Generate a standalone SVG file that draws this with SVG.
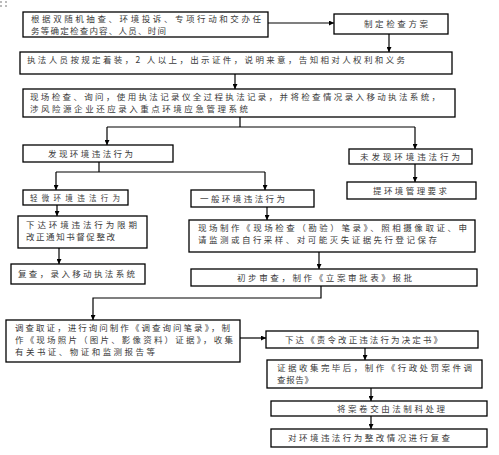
<svg xmlns="http://www.w3.org/2000/svg" width="499" height="455" viewBox="0 0 499 455">
<defs>
<marker id="ah" viewBox="0 0 6 6" refX="6" refY="3" markerWidth="5" markerHeight="5" orient="auto" markerUnits="userSpaceOnUse">
<path d="M0,0 L6,3 L0,6 z" fill="#000"/>
</marker>
<style>
.box{fill:#fff;stroke:#000;stroke-width:1.3}
.t{font-family:"Noto Sans CJK SC","Noto Sans",sans-serif;font-size:8.5px;fill:#3a3a3a}
.c{fill:none;stroke:#000;stroke-width:1.2}
.a{marker-end:url(#ah)}
.dot{fill:#bbb}
</style>
</defs>
<rect width="499" height="455" fill="#fff"/>
<g id="handle">
<rect class="dot" x="0" y="1" width="2" height="2"/>
<rect class="dot" x="5" y="1" width="2" height="2"/>
<rect class="dot" x="0" y="5" width="2" height="2"/>
<rect class="dot" x="5" y="5" width="2" height="2"/>
</g>
<g id="connectors">
<line class="c a" x1="268" y1="23" x2="334" y2="23"/>
<line class="c a" x1="389" y1="34" x2="389" y2="52"/>
<line class="c a" x1="235" y1="74" x2="235" y2="89"/>
<polyline class="c" points="240,117 240,127"/>
<polyline class="c" points="107,127 415,127"/>
<line class="c a" x1="107" y1="127" x2="107" y2="145"/>
<line class="c a" x1="415" y1="127" x2="415" y2="149"/>
<polyline class="c" points="99,162 99,172"/>
<polyline class="c" points="56,172 265,172"/>
<line class="c a" x1="56" y1="172" x2="56" y2="190"/>
<line class="c a" x1="265" y1="172" x2="265" y2="190"/>
<line class="c a" x1="415" y1="164" x2="415" y2="182"/>
<line class="c a" x1="57" y1="205" x2="57" y2="216"/>
<line class="c a" x1="59" y1="248" x2="59" y2="264"/>
<line class="c a" x1="267" y1="207" x2="267" y2="220"/>
<line class="c a" x1="319" y1="252" x2="319" y2="269"/>
<polyline class="c a" points="321,286 321,298 93,298 93,320"/>
<line class="c a" x1="240" y1="338" x2="266" y2="338"/>
<line class="c a" x1="365" y1="348" x2="365" y2="360"/>
<line class="c a" x1="371" y1="388" x2="371" y2="401"/>
<line class="c a" x1="371" y1="416" x2="371" y2="429"/>
</g>
<g id="n1"><rect class="box" x="23" y="12" width="245" height="25"/>
<text class="t" x="31" y="22" textLength="230" lengthAdjust="spacing">根据双随机抽查、环境投诉、专项行动和交办任</text>
<text class="t" x="31" y="34" textLength="135" lengthAdjust="spacing">务等确定检查内容、人员、时间</text></g>
<g id="n2"><rect class="box" x="334" y="14" width="114" height="20"/>
<text class="t" x="364" y="27" textLength="64" lengthAdjust="spacing">制定检查方案</text></g>
<g id="n3"><rect class="box" x="20" y="52" width="432" height="22"/>
<text class="t" x="27" y="63" textLength="378" lengthAdjust="spacing">执法人员按规定着装，2 人以上，出示证件，说明来意，告知相对人权利和义务</text></g>
<g id="n4"><rect class="box" x="23" y="89" width="432" height="28"/>
<text class="t" x="30" y="100" textLength="410" lengthAdjust="spacing">现场检查、询问，使用执法记录仪全过程执法记录，并将检查情况录入移动执法系统，</text>
<text class="t" x="30" y="112" textLength="218" lengthAdjust="spacing">涉风险源企业还应录入重点环境应急管理系统</text></g>
<g id="n5"><rect class="box" x="23" y="145" width="150" height="17"/>
<text class="t" x="48" y="157" textLength="85" lengthAdjust="spacing">发现环境违法行为</text></g>
<g id="n6"><rect class="box" x="349" y="149" width="123" height="15"/>
<text class="t" x="360" y="160" textLength="100" lengthAdjust="spacing">未发现环境违法行为</text></g>
<g id="n7"><rect class="box" x="23" y="190" width="105" height="15"/>
<text class="t" x="30" y="201" textLength="90" lengthAdjust="spacing" style="font-size:7.5px">轻微环境违法行为</text></g>
<g id="n8"><rect class="box" x="191" y="190" width="123" height="17"/>
<text class="t" x="200" y="202" textLength="85" lengthAdjust="spacing">一般环境违法行为</text></g>
<g id="n9"><rect class="box" x="347" y="182" width="129" height="17"/>
<text class="t" x="373" y="194" textLength="74" lengthAdjust="spacing">提环境管理要求</text></g>
<g id="n10"><rect class="box" x="18" y="216" width="129" height="32"/>
<text class="t" x="26" y="228" textLength="111" lengthAdjust="spacing">下达环境违法行为限期</text>
<text class="t" x="26" y="240" textLength="89" lengthAdjust="spacing">改正通知书督促整改</text></g>
<g id="n11"><rect class="box" x="11" y="264" width="134" height="20"/>
<text class="t" x="18" y="277" textLength="117" lengthAdjust="spacing">复查，录入移动执法系统</text></g>
<g id="n12"><rect class="box" x="189" y="220" width="286" height="32"/>
<text class="t" x="198" y="231" textLength="269" lengthAdjust="spacing">现场制作《现场检查（勘验）笔录》、照相摄像取证、申</text>
<text class="t" x="198" y="243" textLength="239" lengthAdjust="spacing">请监测或自行采样、对可能灭失证据先行登记保存</text></g>
<g id="n13"><rect class="box" x="191" y="269" width="286" height="17"/>
<text class="t" x="237" y="281" textLength="175" lengthAdjust="spacing">初步审查，制作《立案审批表》报批</text></g>
<g id="n14"><rect class="box" x="6" y="320" width="234" height="42"/>
<text class="t" x="15" y="331" textLength="215" lengthAdjust="spacing">调查取证，进行询问制作《调查询问笔录》，制</text>
<text class="t" x="15" y="343" textLength="218" lengthAdjust="spacing">作《现场照片（图片、影像资料）证据》，收集</text>
<text class="t" x="15" y="355" textLength="140" lengthAdjust="spacing">有关书证、物证和监测报告等</text></g>
<g id="n15"><rect class="box" x="266" y="331" width="212" height="17"/>
<text class="t" x="285" y="343" textLength="157" lengthAdjust="spacing">下达《责令改正违法行为决定书》</text></g>
<g id="n16"><rect class="box" x="267" y="360" width="215" height="28"/>
<text class="t" x="277" y="371" textLength="195" lengthAdjust="spacing">证据收集完毕后，制作《行政处罚案件调</text>
<text class="t" x="277" y="383" textLength="36" lengthAdjust="spacing">查报告》</text></g>
<g id="n17"><rect class="box" x="271" y="401" width="216" height="15"/>
<text class="t" x="337" y="412" textLength="108" lengthAdjust="spacing">将案卷交由法制科处理</text></g>
<g id="n18"><rect class="box" x="271" y="429" width="216" height="18"/>
<text class="t" x="288" y="441" textLength="162" lengthAdjust="spacing">对环境违法行为整改情况进行复查</text></g>
</svg>
